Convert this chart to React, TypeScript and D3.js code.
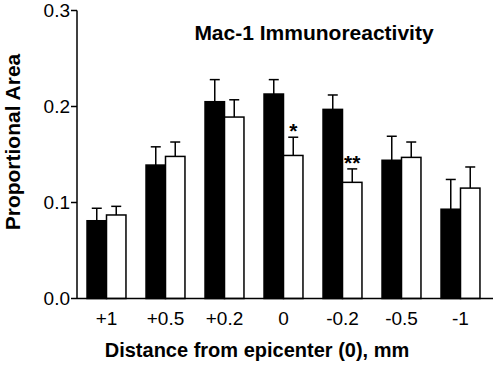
import { useMemo } from "react";
import * as d3 from "d3";

// distances from the epicenter, mm
const categories = ["+1", "+0.5", "+0.2", "0", "-0.2", "-0.5", "-1"];
// black bars
const blackMeans = [0.081, 0.139, 0.205, 0.213, 0.197, 0.144, 0.093];
const blackErr = [0.013, 0.019, 0.023, 0.015, 0.015, 0.025, 0.031];
// white bars
const whiteMeans = [0.087, 0.148, 0.189, 0.149, 0.121, 0.147, 0.115];
const whiteErr = [0.009, 0.015, 0.018, 0.019, 0.014, 0.016, 0.022];
// significance marks above the white bars
const stars = ["", "", "", "*", "**", "", ""];
const yTicks = [0, 0.1, 0.2, 0.3];

const font = "'Liberation Sans', Arial, sans-serif";

function App() {
  const width = 496;
  const height = 365;
  const left = 77;
  const right = 493;

  const y = useMemo(() => d3.scaleLinear().domain([0, 0.3]).range([298.5, 10.5]), []);
  const x = useMemo(
    () => d3.scaleBand().domain(categories).range([77, 490]).paddingInner(0.34).paddingOuter(0.17),
    []
  );
  const inner = useMemo(
    () => d3.scaleBand().domain(["black", "white"]).range([0, x.bandwidth()]),
    [x]
  );

  const series = [
    { key: "black", means: blackMeans, errs: blackErr, fill: "#000" },
    { key: "white", means: whiteMeans, errs: whiteErr, fill: "#fff" },
  ];

  return (
    <svg width={width} height={height} style={{ display: "block", position: "absolute", left: 0, top: 0 }}>
      <rect width={width} height={height} fill="#fff" />
      {series.map((s) =>
        categories.map((c, i) => {
          const bx = (x(c) ?? 0) + (inner(s.key) ?? 0);
          const bw = inner.bandwidth();
          const cx = bx + bw / 2;
          const top = y(s.means[i]);
          const errTop = y(s.means[i] + s.errs[i]);
          return (
            <g key={s.key + c}>
              <line x1={cx} x2={cx} y1={top} y2={errTop} stroke="#000" strokeWidth={1.5} />
              <line x1={cx - 5} x2={cx + 5} y1={errTop} y2={errTop} stroke="#000" strokeWidth={1.5} />
              <rect
                x={bx}
                y={top}
                width={bw}
                height={y(0) - top}
                fill={s.fill}
                stroke="#000"
                strokeWidth={1.5}
              />
            </g>
          );
        })
      )}
      {categories.map((c, i) =>
        stars[i] ? (
          <text
            key={"s" + c}
            x={(x(c) ?? 0) + (inner("white") ?? 0) + inner.bandwidth() / 2}
            y={y(whiteMeans[i] + whiteErr[i]) + 1}
            textAnchor="middle"
            fontFamily={font}
            fontWeight="bold"
            fontSize={21}
          >
            {stars[i]}
          </text>
        ) : null
      )}
      {/* y axis */}
      <line x1={left} x2={left} y1={y(0.3)} y2={y(0)} stroke="#000" strokeWidth={1.5} />
      {yTicks.map((t) => (
        <g key={t}>
          <line x1={left - 6} x2={left} y1={y(t)} y2={y(t)} stroke="#000" strokeWidth={1.5} />
          <text x={left - 7} y={y(t)} dy="0.36em" textAnchor="end" fontFamily={font} fontSize={19}>
            {t.toFixed(1)}
          </text>
        </g>
      ))}
      {/* x axis */}
      <line x1={left} x2={right} y1={y(0)} y2={y(0)} stroke="#000" strokeWidth={1.5} />
      {categories.map((c) => (
        <text
          key={"t" + c}
          x={(x(c) ?? 0) + x.bandwidth() / 2}
          y={325}
          textAnchor="middle"
          fontFamily={font}
          fontSize={19}
        >
          {c}
        </text>
      ))}
      <text x={257} y={357} textAnchor="middle" fontFamily={font} fontWeight="bold" fontSize={20}>
        Distance from epicenter (0), mm
      </text>
      <text
        transform="translate(20,142) rotate(-90)"
        textAnchor="middle"
        fontFamily={font}
        fontWeight="bold"
        fontSize={21}
      >
        Proportional Area
      </text>
      <text x={314} y={40} textAnchor="middle" fontFamily={font} fontWeight="bold" fontSize={21}>
        Mac-1 Immunoreactivity
      </text>
    </svg>
  );
}

export default App;
